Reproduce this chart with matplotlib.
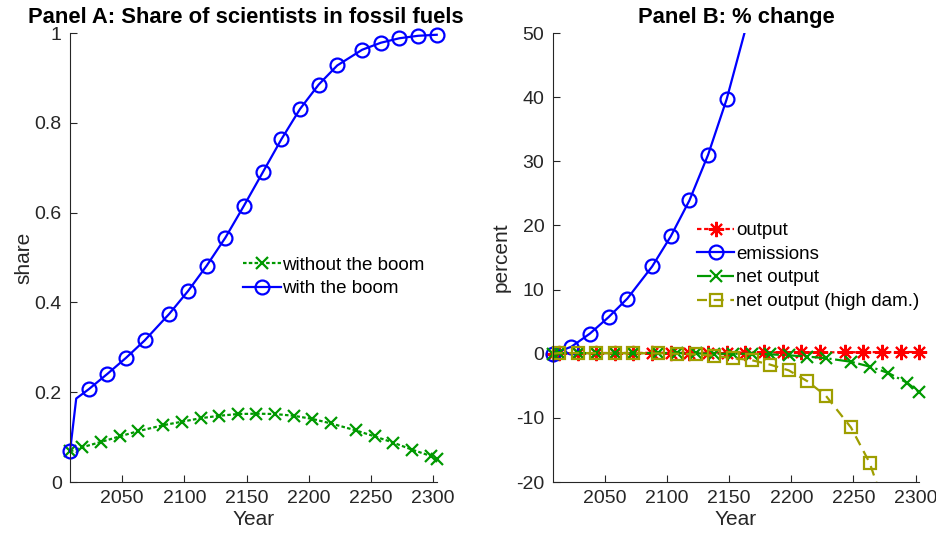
import numpy as np
import matplotlib
matplotlib.use('Agg')
import matplotlib.pyplot as plt
from matplotlib.patches import Rectangle

plt.rcParams['font.family'] = ['Liberation Sans', 'DejaVu Sans']
plt.rcParams['axes.unicode_minus'] = False

# Panel A: share of scientists in fossil fuels
years_boom = [2008, 2013, 2023, 2038, 2053, 2068, 2088, 2103, 2118, 2133, 2148,
              2163, 2178, 2193, 2208, 2223, 2243, 2258, 2273, 2288, 2303]
share_boom = [0.068, 0.186, 0.2065, 0.2407, 0.2764, 0.3152, 0.375, 0.4255, 0.482,
              0.5443, 0.6157, 0.6894, 0.7632, 0.8307, 0.885, 0.9278, 0.9627,
              0.9783, 0.9883, 0.9938, 0.9961]
years_noboom = [2008, 2018, 2033, 2048, 2063, 2083, 2098, 2113, 2128, 2143, 2158,
                2173, 2188, 2203, 2218, 2238, 2253, 2268, 2283, 2298, 2303]
share_noboom = [0.068, 0.0776, 0.0893, 0.1017, 0.1134, 0.1266, 0.1343, 0.1421,
                0.1475, 0.1514, 0.1522, 0.1514, 0.1475, 0.1405, 0.1304, 0.1149,
                0.1017, 0.0877, 0.0722, 0.0582, 0.052]

# Panel B: % change
years_out = [2008, 2013, 2028, 2043, 2058, 2073, 2088, 2103, 2118, 2133, 2148,
             2163, 2178, 2193, 2208, 2223, 2243, 2258, 2273, 2288, 2303]
pct_out = [0.0, 0.1, 0.1, 0.1, 0.12, 0.12, 0.14, 0.15, 0.16, 0.17, 0.18,
           0.19, 0.2, 0.2, 0.21, 0.22, 0.23, 0.24, 0.25, 0.26, 0.27]
years_emis = [2008, 2023, 2038, 2053, 2068, 2088, 2103, 2118, 2133, 2148, 2163, 2178]
pct_emis = [0.0, 1.09, 3.15, 5.71, 8.59, 13.6, 18.3, 23.9, 31.0, 39.7, 50.5, 63.0]
years_net = [2008, 2013, 2028, 2043, 2058, 2073, 2093, 2108, 2123, 2138, 2153, 2168,
             2183, 2198, 2213, 2228, 2248, 2263, 2278, 2293, 2303]
pct_net = [0.0, 0.1, 0.1, 0.1, 0.1, 0.1, 0.1, 0.1, 0.05, 0.0, 0.0, 0.0,
           -0.1, -0.25, -0.45, -0.7, -1.25, -2.0, -3.0, -4.5, -6.0]
years_high = [2008, 2013, 2028, 2043, 2058, 2073, 2093, 2108, 2123, 2138, 2153, 2168,
              2183, 2198, 2213, 2228, 2248, 2263, 2278]
pct_high = [0.0, 0.1, 0.1, 0.1, 0.1, 0.1, 0.05, 0.0, -0.1, -0.3, -0.7, -1.0,
            -1.7, -2.6, -4.3, -6.6, -11.5, -17.0, -25.5]

xticks = [2050, 2100, 2150, 2200, 2250, 2300]

BLUE = (0, 0, 1)
GREEN = (0, 0.6, 0)
RED = (1, 0, 0)
OLIVE = (0.62, 0.62, 0)
AXC = (0.15, 0.15, 0.15)
ASTER = (8, 2, 0)

fig = plt.figure(figsize=(9.36, 5.5), dpi=100)
axA = fig.add_axes([0.0748, 0.1236, 0.3918, 0.8164])
axB = fig.add_axes([0.5905, 0.1236, 0.3917, 0.8164])


def style(ax):
    for s in ['top', 'right']:
        ax.spines[s].set_visible(False)
    for s in ['left', 'bottom']:
        ax.spines[s].set_color(AXC)
        ax.spines[s].set_linewidth(0.8)
    ax.tick_params(direction='in', length=5, width=0.8, colors=AXC,
                   labelsize=14, pad=6)
    ax.set_xlim(2008, 2303)
    ax.set_xticks(xticks)
    ax.set_xlabel('Year', fontsize=15, color=AXC, labelpad=2)


def wide_clip(ax, line):
    # clip only in y, so edge markers stay whole
    r = Rectangle((-0.05, 0), 1.1, 1, transform=ax.transAxes,
                  facecolor='none', edgecolor='none')
    ax.add_artist(r)
    line.set_clip_path(r)


lw = 1.6
mew = 1.6

# Panel A
axA.plot(years_noboom, share_noboom, color=GREEN, lw=lw, dashes=(1.6, 1.0),
         marker='x', ms=8, mew=mew, clip_on=False, label='without the boom')
axA.plot(years_boom, share_boom, '-', color=BLUE, lw=lw, marker='o', ms=10,
         mew=mew, mfc='none', markevery=[0] + list(range(2, len(years_boom))),
         clip_on=False, label='with the boom')
style(axA)
axA.set_ylim(0, 1)
axA.set_yticks([0, 0.2, 0.4, 0.6, 0.8, 1])
axA.set_yticklabels(['0', '0.2', '0.4', '0.6', '0.8', '1'])
axA.set_ylabel('share', fontsize=15, color=AXC, labelpad=1)
axA.set_title('Panel A: Share of scientists in fossil fuels', fontsize=15.8,
              fontweight='bold', pad=7, x=0.479)
axA.legend(loc='center left', bbox_to_anchor=(0.472, 0.457), frameon=False,
           fontsize=13.5, handlelength=2.0, handletextpad=0.1, borderpad=0,
           borderaxespad=0, labelspacing=0.35)

# Panel B
axB.plot(years_out, pct_out, color=RED, lw=lw, dashes=(2.0, 1.2),
         marker=ASTER, ms=11, mew=1.5, clip_on=False, label='output')
l_emis, = axB.plot(years_emis, pct_emis, '-', color=BLUE, lw=lw, marker='o',
                   ms=10, mew=mew, mfc='none', markevery=list(range(10)),
                   label='emissions')
wide_clip(axB, l_emis)
axB.plot(years_net, pct_net, '-.', color=GREEN, lw=lw, marker='x', ms=8,
         mew=mew, clip_on=False, label='net output')
l_high, = axB.plot(years_high, pct_high, color=OLIVE, lw=lw, marker='s', ms=8,
                   mew=mew, mfc='none', dashes=(4.5, 3),
                   markevery=list(range(1, 18)),
                   label='net output (high dam.)')
wide_clip(axB, l_high)
style(axB)
axB.set_ylim(-20, 50)
axB.set_yticks(range(-20, 51, 10))
axB.set_ylabel('percent', fontsize=15, color=AXC, labelpad=4)
axB.set_title('Panel B: % change', fontsize=15.8, fontweight='bold', pad=7)
axB.legend(loc='center left', bbox_to_anchor=(0.393, 0.481), frameon=False,
           fontsize=13.5, handlelength=2.0, handletextpad=0.1, borderpad=0,
           borderaxespad=0, labelspacing=0.35)

fig.savefig('out.png', dpi=100)
